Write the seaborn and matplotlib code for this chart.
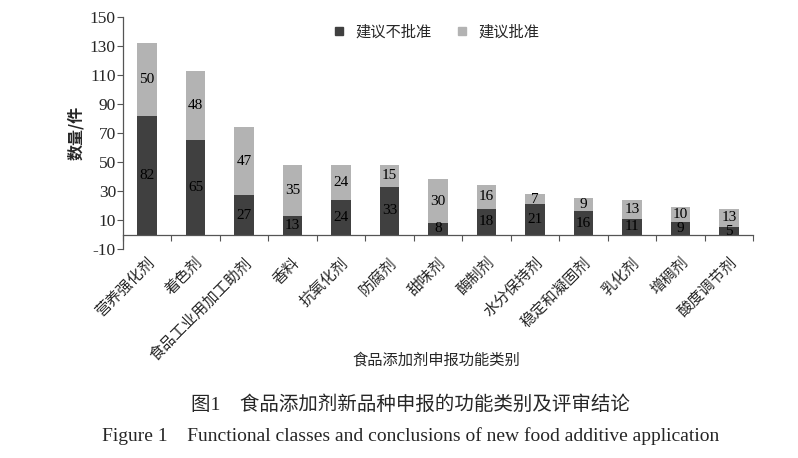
import matplotlib
matplotlib.use("Agg")
import matplotlib.pyplot as plt
import seaborn as sns
import pandas as pd
import numpy as np
from matplotlib.ticker import FixedLocator
from matplotlib.lines import Line2D

sns.set_theme(style="white")
plt.rcParams['font.family'] = ['Liberation Serif', 'Noto Sans CJK SC']
plt.rcParams['axes.unicode_minus'] = False

# data
categories = ['营养强化剂', '着色剂', '食品工业用加工助剂', '香料', '抗氧化剂', '防腐剂', '甜味剂',
              '酶制剂', '水分保持剂', '稳定和凝固剂', '乳化剂', '增稠剂', '酸度调节剂']
not_approved = [82, 65, 27, 13, 24, 33, 8, 18, 21, 16, 11, 9, 5]
approved = [50, 48, 47, 35, 24, 15, 30, 16, 7, 9, 13, 10, 13]

dark = '#404040'
light = '#b3b3b3'

df = pd.DataFrame({'cat': categories, 'no': not_approved, 'yes': approved})
df['total'] = df['no'] + df['yes']

fig = plt.figure(figsize=(7.98, 4.58), dpi=100)
ax = fig.add_axes([0.154, 0.456, 0.79, 0.507])

# stacked: draw total (light) first, then the dark bottom part over it
sns.barplot(data=df, x='cat', y='total', color=light, width=0.4, saturation=1, linewidth=0, ax=ax)
sns.barplot(data=df, x='cat', y='no', color=dark, width=0.4, saturation=1, linewidth=0, ax=ax)

for i, (n, a) in enumerate(zip(not_approved, approved)):
    ax.text(i, n / 2, str(n), ha='center', va='center', fontsize=11, color='black')
    ax.text(i, n + a / 2, str(a), ha='center', va='center', fontsize=11, color='black')

ax.set_xlim(-0.5, len(categories) - 0.5)
ax.set_ylim(-10, 150)
ax.set_yticks(np.arange(-10, 151, 20))
ax.tick_params(axis='y', labelsize=12.5, length=4, width=0.8, direction='out', left=True, color='#555555', pad=1)

ax.spines['top'].set_visible(False)
ax.spines['right'].set_visible(False)
ax.spines['bottom'].set_position(('data', 0))
for s in ['left', 'bottom']:
    ax.spines[s].set_color('#555555')
    ax.spines[s].set_linewidth(0.9)

ax.xaxis.set_minor_locator(FixedLocator(np.arange(-0.5, len(categories), 1)))
ax.tick_params(axis='x', which='minor', length=4, width=0.8, direction='out', bottom=True, color='#555555')
ax.tick_params(axis='x', which='major', length=0, pad=15)
ax.set_xticks(range(len(categories)))
ax.set_xticklabels(categories, rotation=45, ha='right', rotation_mode='anchor', fontsize=11)

ax.set_xlabel('')
ax.set_ylabel('数量/件', fontsize=11.5, labelpad=4, family=['Noto Sans CJK SC'], fontweight='bold')

handles = [Line2D([], [], marker='s', linestyle='', color=dark, markersize=6),
           Line2D([], [], marker='s', linestyle='', color=light, markersize=6)]
ax.legend(handles, ['建议不批准', '建议批准'], loc='center', bbox_to_anchor=(0.49, 0.935), ncol=2,
          frameon=False, fontsize=11, handletextpad=0.05, columnspacing=1.0)

fig.text(436 / 798, 1 - 360 / 458, '食品添加剂申报功能类别', ha='center', va='center', fontsize=11)
fig.text(0.514, 1 - 405 / 458, '图1　食品添加剂新品种申报的功能类别及评审结论', ha='center', va='center', fontsize=14)
fig.text(0.514, 1 - 436 / 458, 'Figure 1　Functional classes and conclusions of new food additive application',
         ha='center', va='center', fontsize=14)

fig.savefig('out.png', dpi=100)
